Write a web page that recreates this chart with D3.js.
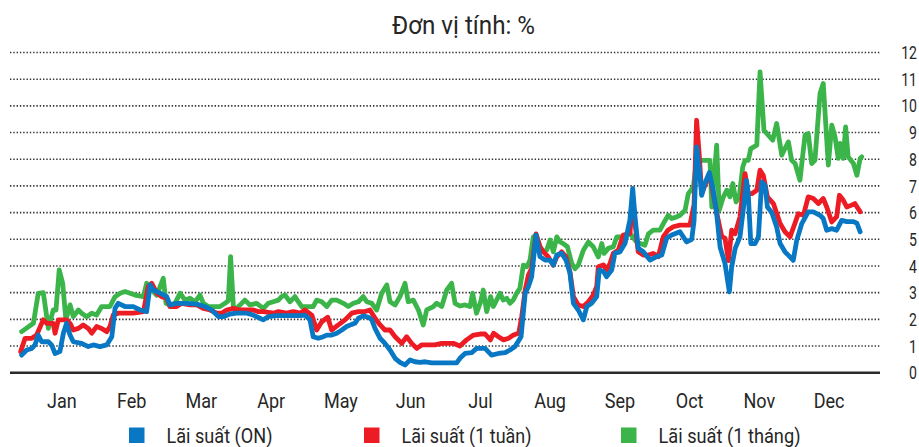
<!DOCTYPE html>
<html>
<head>
<meta charset="utf-8">
<script src="https://cdn.jsdelivr.net/npm/d3@7"></script>
<style>
  body { margin: 0; background: #fff; }
  svg text { font-family: Roboto, "Noto Sans", sans-serif; fill: #262626; }
</style>
</head>
<body>
<svg id="chart" width="919" height="447"></svg>
<script>
// tiêu đề, tháng, nhãn trục
const title = "Đơn vị tính: %";
const months = ["Jan", "Feb", "Mar", "Apr", "May", "Jun", "Jul", "Aug", "Sep", "Oct", "Nov", "Dec"];
const yTicks = [0, 1, 2, 3, 4, 5, 6, 7, 8, 9, 10, 11, 12];
const seriesNames = ["Lãi suất (ON)", "Lãi suất (1 tuần)", "Lãi suất (1 tháng)"];

// [ngày trong năm, lãi suất %]
const rateON = [
  [0.7,0.66],[2.9,0.85],[5.1,0.91],[6.5,1.04],[7.9,1.41],[9.4,1.16],[12.3,1.16],[13.7,1.04],[15.2,0.72],[17.3,0.79],
  [18.8,1.48],[20.2,1.85],[21.7,1.41],[23.1,1.16],[26.7,1.1],[29.6,0.98],[31.8,1.04],[34.7,0.98],[37.6,1.04],[39.8,1.35],
  [41.2,2.41],[42.6,2.6],[45.5,2.48],[49.1,2.48],[52.0,2.35],[54.9,2.29],[56.4,3.29],[57.8,3.1],[60.7,2.98],[63.6,2.85],
  [65.0,2.54],[67.9,2.6],[72.3,2.6],[76.6,2.57],[80.2,2.48],[83.1,2.35],[86.0,2.1],[88.1,2.1],[91.0,2.2],[93.9,2.23],
  [98.3,2.23],[101.1,2.16],[104.0,2.04],[105.5,1.98],[107.6,2.1],[111.3,2.14],[117.0,2.14],[121.4,2.14],[123.5,2.16],[125.7,1.98],
  [127.1,1.35],[129.3,1.29],[131.5,1.35],[133.0,1.41],[135.1,1.41],[137.3,1.48],[139.5,1.6],[141.6,1.73],[143.8,1.81],[145.2,1.85],
  [146.7,2.04],[148.8,2.13],[151.0,2.08],[152.5,1.98],[153.9,1.66],[156.1,1.29],[158.2,1.1],[160.4,0.85],[162.6,0.54],[164.7,0.39],
  [166.9,0.29],[169.1,0.48],[171.2,0.41],[173.4,0.39],[175.6,0.41],[178.5,0.37],[181.3,0.37],[184.2,0.37],[187.1,0.37],[189.3,0.37],
  [190.7,0.54],[192.9,0.72],[195.8,0.75],[197.9,0.91],[201.6,0.91],[204.4,0.66],[207.4,0.72],[210.3,0.75],[212.4,0.85],[214.6,0.98],
  [217.2,1.35],[219.0,2.98],[220.4,3.23],[221.8,3.6],[223.7,5.16],[225.4,4.35],[227.6,4.22],[229.8,4.22],[231.2,4.04],[232.7,4.41],
  [234.8,4.48],[236.7,4.22],[238.4,3.73],[239.9,2.6],[242.0,2.35],[244.2,1.98],[245.7,2.48],[247.8,2.6],[250.0,2.85],[251.1,3.85],
  [252.9,3.79],[254.3,3.6],[256.5,3.85],[257.9,4.48],[260.1,4.53],[262.3,4.85],[264.4,5.73],[265.6,6.91],[266.6,5.85],[268.0,4.66],
  [270.2,4.53],[273.1,4.22],[276.0,4.35],[278.2,4.41],[280.3,5.04],[282.5,5.16],[286.1,5.28],[289.0,4.9],[291.2,5.0],[292.2,5.7],
  [293.3,8.46],[294.5,7.6],[295.5,6.65],[296.9,7.1],[298.8,7.5],[300.5,6.84],[302.0,5.96],[303.5,4.7],[305.6,4.1],[307.5,3.03],
  [308.5,3.96],[310.0,4.65],[312.1,5.09],[313.5,6.09],[314.9,7.21],[315.7,6.7],[316.8,4.84],[318.6,4.84],[320.1,5.09],[321.5,7.15],
  [323.0,7.0],[324.0,6.21],[325.9,6.0],[328.0,5.46],[329.5,4.84],[331.6,4.53],[333.8,4.34],[335.2,4.21],[336.7,4.96],[338.9,5.59],
  [341.7,6.03],[343.9,6.03],[346.8,5.9],[348.2,5.78],[349.7,5.34],[351.9,5.4],[354.0,5.34],[356.2,5.71],[358.4,5.66],[361.3,5.66],
  [362.8,5.6],[364.2,5.28]
];

const rate1W = [
  [0.3,0.79],[2.2,1.29],[5.1,1.29],[7.2,1.41],[9.4,1.85],[10.1,1.98],[11.6,1.85],[14.4,1.85],[15.2,1.48],[16.6,1.98],
  [20.2,1.98],[21.7,1.85],[23.1,1.6],[25.3,1.66],[27.4,1.79],[29.6,1.66],[31.1,1.48],[33.2,1.73],[35.4,1.66],[37.6,1.54],
  [39.0,1.73],[40.4,2.16],[42.6,2.23],[49.1,2.23],[53.5,2.29],[55.6,3.23],[57.1,3.35],[59.3,2.98],[61.4,2.85],[63.6,2.79],
  [65.0,2.48],[67.9,2.48],[70.1,2.6],[73.7,2.54],[76.6,2.54],[79.5,2.41],[82.4,2.35],[85.3,2.23],[87.4,2.23],[89.6,2.35],
  [92.5,2.41],[95.4,2.35],[98.3,2.35],[101.1,2.35],[103.3,2.29],[105.5,2.29],[109.8,2.23],[112.0,2.29],[115.6,2.23],[118.5,2.29],
  [121.4,2.23],[123.5,2.35],[126.5,2.16],[128.6,1.6],[130.8,1.91],[133.4,2.08],[135.1,1.6],[138.0,1.79],[140.9,1.98],[143.8,2.23],
  [146.7,2.29],[149.6,2.29],[151.7,2.35],[153.9,2.04],[156.1,1.79],[158.2,1.6],[160.4,1.6],[162.6,1.35],[165.5,1.1],[167.6,1.35],
  [169.8,1.1],[172.0,0.91],[174.1,1.04],[177.0,1.04],[179.9,1.04],[182.8,1.1],[185.7,1.1],[187.8,1.1],[190.7,1.0],[193.6,1.23],
  [196.6,1.41],[199.5,1.45],[201.6,1.45],[203.9,1.23],[205.3,1.48],[207.4,1.35],[209.6,1.23],[211.8,1.29],[213.9,1.41],[216.2,1.48],
  [217.5,2.1],[219.0,3.1],[220.4,3.66],[221.8,3.91],[223.7,5.2],[225.4,4.72],[226.9,4.53],[229.0,4.34],[231.2,4.03],[232.7,4.34],
  [234.8,4.53],[236.7,4.34],[238.4,3.78],[239.9,2.85],[242.0,2.54],[244.2,2.48],[246.4,2.66],[248.5,2.91],[250.0,3.23],[250.7,3.97],
  [252.9,4.04],[254.3,3.85],[255.8,4.1],[257.2,4.48],[259.4,4.6],[261.5,5.16],[264.4,5.22],[265.6,6.6],[266.6,5.6],[268.0,4.53],
  [270.2,4.41],[272.4,4.41],[274.5,4.47],[276.7,4.35],[278.9,5.1],[281.0,5.35],[283.2,5.47],[286.1,5.53],[290.4,5.53],[292.2,6.3],
  [293.3,9.46],[294.5,8.1],[295.5,6.7],[297.7,7.2],[299.1,7.34],[300.5,6.7],[302.7,5.7],[304.2,5.1],[305.6,5.04],[307.1,4.2],
  [308.5,5.34],[310.0,5.21],[312.1,5.84],[314.3,7.46],[315.7,6.71],[317.2,6.71],[319.4,6.84],[320.8,7.59],[322.2,7.4],[324.0,6.59],
  [326.6,6.34],[329.5,5.59],[331.6,5.28],[333.8,5.09],[335.9,5.59],[337.4,5.96],[339.6,5.9],[341.7,6.59],[343.9,6.53],[346.1,6.34],
  [348.2,6.53],[349.7,6.21],[351.9,5.65],[354.0,5.84],[355.2,6.65],[356.9,6.46],[358.4,6.21],[360.5,6.28],[361.9,6.34],[364.2,6.03]
];

const rate1M = [
  [0.7,1.54],[5.8,1.85],[7.9,2.97],[10.1,3.0],[12.3,1.66],[14.4,2.35],[15.6,2.35],[17.0,3.85],[18.5,3.35],[19.9,1.98],
  [21.7,2.54],[23.1,2.1],[25.3,2.35],[26.7,2.23],[28.9,2.1],[31.1,2.23],[33.2,2.16],[35.4,2.48],[36.8,2.48],[39.0,2.48],
  [41.2,2.85],[43.4,2.98],[45.5,3.04],[49.9,2.91],[53.5,2.85],[54.9,3.35],[56.4,3.16],[59.3,2.9],[62.1,3.54],[63.3,2.6],
  [65.0,2.54],[67.2,2.6],[69.4,2.98],[71.5,2.72],[73.7,2.79],[75.9,2.66],[78.0,2.91],[79.5,2.6],[81.6,2.48],[84.5,2.48],
  [86.7,2.48],[88.9,2.6],[90.3,2.7],[91.3,4.35],[92.5,2.48],[93.2,2.35],[95.4,2.54],[97.5,2.72],[99.7,2.54],[102.6,2.6],
  [105.5,2.41],[107.6,2.6],[109.8,2.66],[112.0,2.72],[113.4,2.85],[114.9,2.91],[117.0,2.66],[119.2,2.85],[120.6,2.66],[122.1,2.48],
  [124.3,2.48],[127.1,2.48],[128.6,2.72],[130.8,2.66],[133.0,2.48],[135.1,2.72],[137.3,2.72],[140.2,2.6],[142.3,2.48],[144.5,2.6],
  [146.7,2.66],[148.8,2.85],[150.3,2.66],[152.5,2.6],[154.6,2.35],[156.8,2.98],[159.0,3.29],[160.4,2.66],[162.6,2.54],[164.7,2.85],
  [166.9,3.35],[168.3,2.66],[170.5,2.72],[172.7,2.35],[174.8,1.79],[176.3,2.35],[179.2,2.48],[180.6,2.6],[182.8,2.48],[185.0,3.1],
  [187.1,3.35],[188.6,2.6],[190.7,2.5],[192.9,2.54],[195.1,2.48],[196.2,2.98],[197.9,2.23],[199.7,2.66],[200.8,3.1],[202.3,2.29],
  [204.0,2.85],[205.2,2.48],[206.6,2.72],[208.1,2.98],[209.5,2.72],[211.0,2.79],[212.4,2.6],[213.8,2.72],[215.3,2.98],[216.7,3.16],
  [218.2,4.03],[219.7,3.97],[221.1,4.22],[222.5,5.09],[223.7,5.16],[225.4,4.72],[226.9,4.53],[228.3,4.59],[229.8,4.97],[231.2,4.53],
  [232.7,5.09],[234.1,4.9],[235.5,4.84],[237.3,4.72],[239.2,4.09],[240.6,3.9],[242.0,4.03],[244.2,4.59],[246.4,4.9],[248.5,4.72],
  [250.7,4.34],[252.2,4.84],[253.2,4.47],[255.0,4.66],[257.2,4.72],[258.7,5.09],[261.5,5.09],[264.4,5.22],[267.3,4.9],[270.9,4.78],
  [272.4,5.2],[274.5,5.34],[277.4,5.34],[278.9,5.59],[281.0,5.9],[282.5,5.78],[284.7,5.84],[286.1,5.9],[288.3,6.09],[289.7,6.71],
  [291.9,6.96],[293.3,7.96],[299.1,7.96],[299.9,6.21],[302.0,8.53],[303.1,6.09],[304.9,6.59],[306.4,6.84],[307.8,6.59],[309.0,7.09],
  [310.4,6.4],[311.8,6.59],[313.3,7.71],[314.3,7.96],[315.7,7.96],[316.8,8.4],[319.4,8.53],[320.8,11.27],[322.5,9.09],[324.4,8.9],
  [326.3,8.71],[328.0,9.34],[329.2,8.71],[330.2,8.15],[331.6,8.4],[333.1,8.65],[334.5,7.96],[336.0,7.84],[338.1,7.21],[340.3,8.9],
  [341.7,8.96],[343.2,7.84],[344.6,7.96],[346.8,10.46],[348.2,10.84],[350.4,7.78],[351.9,9.28],[353.3,8.84],[354.7,8.03],[355.5,8.59],
  [356.9,8.03],[357.9,9.21],[359.0,8.09],[361.3,7.84],[362.8,7.4],[364.2,8.03],[364.9,8.09]
];

const colors = ["#0877c4", "#ed1c24", "#3bb44a"];

const svg = d3.select("#chart");
const area = { left: 10, right: 880, top: 52.5, bottom: 372.7 };

const scX = d3.scaleLinear().domain([0, 365]).range([20, 862]);
const scY = d3.scaleLinear().domain([0, 12]).range([area.bottom, area.top]);
const scMonth = d3.scaleBand().domain(months).range([27, 864]);

svg.append("rect").attr("width", 919).attr("height", 447).attr("fill", "#fff");

// tiêu đề (font hẹp -> ép chiều ngang)
svg.append("text")
  .attr("x", 463.5).attr("y", 34)
  .attr("text-anchor", "middle")
  .attr("textLength", 143)
  .attr("lengthAdjust", "spacingAndGlyphs")
  .style("font-size", "26.5px")
  .text(title);

// lưới chấm
svg.append("g")
  .selectAll("line")
  .data(yTicks.filter((d) => d > 0))
  .enter()
  .append("line")
  .attr("x1", area.left).attr("x2", area.right)
  .attr("y1", (d) => scY(d)).attr("y2", (d) => scY(d))
  .attr("stroke", "#333")
  .attr("stroke-width", 1.6)
  .attr("stroke-dasharray", "1.4,1.9");

// trục 0
svg.append("line")
  .attr("x1", area.left).attr("x2", area.right)
  .attr("y1", scY(0)).attr("y2", scY(0))
  .attr("stroke", "#2a2a2a")
  .attr("stroke-width", 2.5);

// nhãn trục Y bên phải
const axisY = d3.axisRight(scY).tickValues(yTicks).tickSize(0).tickPadding(0);
const gY = svg.append("g").attr("transform", "translate(917,0)").call(axisY);
gY.select(".domain").remove();
gY.selectAll("text")
  .attr("text-anchor", "end")
  .attr("x", 0)
  .attr("transform", "scale(0.74,1)")
  .style("font-size", "19px")
  .style("font-family", null);

// nhãn tháng
const axisX = d3.axisBottom(scMonth).tickSize(0).tickPadding(0);
const gX = svg.append("g").attr("transform", "translate(0,393)").call(axisX);
gX.select(".domain").remove();
gX.selectAll("text")
  .attr("transform", "scale(0.88,1)")
  .style("font-size", "20.5px")
  .style("font-family", null);

// đường
const line = d3.line()
  .x((d) => scX(d[0]))
  .y((d) => scY(d[1]));

const allSeries = [rateON, rate1W, rate1M];
[2, 1, 0].forEach((i) => {
  svg.append("path")
    .datum(allSeries[i])
    .attr("d", line)
    .attr("fill", "none")
    .attr("stroke", colors[i])
    .attr("stroke-width", 4.8)
    .attr("stroke-linejoin", "round")
    .attr("stroke-linecap", "round");
});

// chú giải
const legendX = [129, 364, 621];
const legendTextW = [106, 130, 142];
const legend = svg.append("g")
  .selectAll("g")
  .data(seriesNames)
  .enter()
  .append("g")
  .attr("transform", (d, i) => `translate(${legendX[i]}, 427.5)`);

legend.append("rect")
  .attr("width", 15.5).attr("height", 15.5)
  .attr("fill", (d, i) => colors[i]);

legend.append("text")
  .attr("x", 37.5)
  .attr("y", 15)
  .attr("textLength", (d, i) => legendTextW[i])
  .attr("lengthAdjust", "spacingAndGlyphs")
  .style("font-size", "20.5px")
  .text((d) => d);
</script>
</body>
</html>
